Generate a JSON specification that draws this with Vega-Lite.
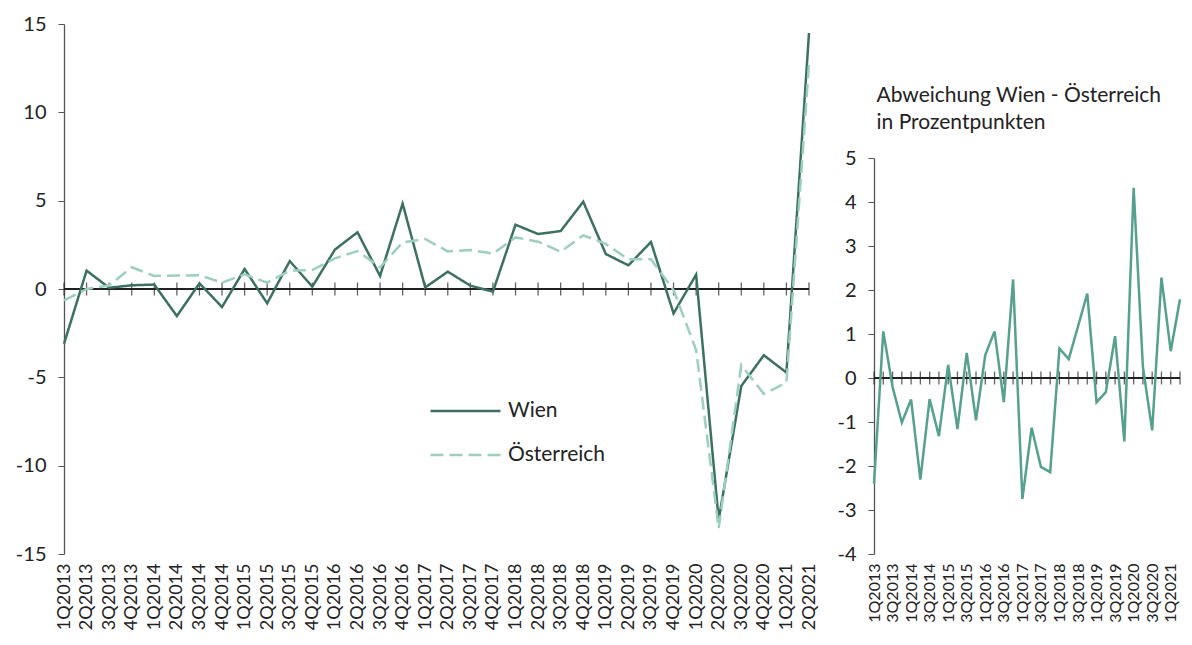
{
  "$schema": "https://vega.github.io/schema/vega-lite/v6.json",
  "background": "white",
  "padding": {"left": 15, "top": 14, "right": 5, "bottom": 5},
  "config": {
    "font": "Lato",
    "view": {"stroke": null},
    "axis": {"labelFont": "Lato", "labelColor": "#222222", "grid": false, "domainColor": "#555555", "tickColor": "#555555"}
  },
  "datasets": {
    "main": [
      {"q": "1Q2013", "s": "Wien", "v": -3.1}, {"q": "2Q2013", "s": "Wien", "v": 1.04}, {"q": "3Q2013", "s": "Wien", "v": 0.07}, {"q": "4Q2013", "s": "Wien", "v": 0.21},
      {"q": "1Q2014", "s": "Wien", "v": 0.25}, {"q": "2Q2014", "s": "Wien", "v": -1.53}, {"q": "3Q2014", "s": "Wien", "v": 0.32}, {"q": "4Q2014", "s": "Wien", "v": -1.02},
      {"q": "1Q2015", "s": "Wien", "v": 1.13}, {"q": "2Q2015", "s": "Wien", "v": -0.81}, {"q": "3Q2015", "s": "Wien", "v": 1.58}, {"q": "4Q2015", "s": "Wien", "v": 0.13},
      {"q": "1Q2016", "s": "Wien", "v": 2.23}, {"q": "2Q2016", "s": "Wien", "v": 3.21}, {"q": "3Q2016", "s": "Wien", "v": 0.74}, {"q": "4Q2016", "s": "Wien", "v": 4.83},
      {"q": "1Q2017", "s": "Wien", "v": 0.09}, {"q": "2Q2017", "s": "Wien", "v": 0.98}, {"q": "3Q2017", "s": "Wien", "v": 0.19}, {"q": "4Q2017", "s": "Wien", "v": -0.15},
      {"q": "1Q2018", "s": "Wien", "v": 3.64}, {"q": "2Q2018", "s": "Wien", "v": 3.11}, {"q": "3Q2018", "s": "Wien", "v": 3.28}, {"q": "4Q2018", "s": "Wien", "v": 4.94},
      {"q": "1Q2019", "s": "Wien", "v": 1.98}, {"q": "2Q2019", "s": "Wien", "v": 1.34}, {"q": "3Q2019", "s": "Wien", "v": 2.66}, {"q": "4Q2019", "s": "Wien", "v": -1.38},
      {"q": "1Q2020", "s": "Wien", "v": 0.81}, {"q": "2Q2020", "s": "Wien", "v": -13.07}, {"q": "3Q2020", "s": "Wien", "v": -5.49}, {"q": "4Q2020", "s": "Wien", "v": -3.75},
      {"q": "1Q2021", "s": "Wien", "v": -4.73}, {"q": "2Q2021", "s": "Wien", "v": 14.49},
      {"q": "1Q2013", "s": "Österreich", "v": -0.65}, {"q": "2Q2013", "s": "Österreich", "v": 0.0}, {"q": "3Q2013", "s": "Österreich", "v": 0.2}, {"q": "4Q2013", "s": "Österreich", "v": 1.23},
      {"q": "1Q2014", "s": "Österreich", "v": 0.74}, {"q": "2Q2014", "s": "Österreich", "v": 0.76}, {"q": "3Q2014", "s": "Österreich", "v": 0.78}, {"q": "4Q2014", "s": "Österreich", "v": 0.36},
      {"q": "1Q2015", "s": "Österreich", "v": 0.83}, {"q": "2Q2015", "s": "Österreich", "v": 0.36}, {"q": "3Q2015", "s": "Österreich", "v": 1.04}, {"q": "4Q2015", "s": "Österreich", "v": 1.07},
      {"q": "1Q2016", "s": "Österreich", "v": 1.73}, {"q": "2Q2016", "s": "Österreich", "v": 2.15}, {"q": "3Q2016", "s": "Österreich", "v": 1.23}, {"q": "4Q2016", "s": "Österreich", "v": 2.64},
      {"q": "1Q2017", "s": "Österreich", "v": 2.83}, {"q": "2Q2017", "s": "Österreich", "v": 2.13}, {"q": "3Q2017", "s": "Österreich", "v": 2.21}, {"q": "4Q2017", "s": "Österreich", "v": 2.0},
      {"q": "1Q2018", "s": "Österreich", "v": 2.92}, {"q": "2Q2018", "s": "Österreich", "v": 2.68}, {"q": "3Q2018", "s": "Österreich", "v": 2.11}, {"q": "4Q2018", "s": "Österreich", "v": 3.04},
      {"q": "1Q2019", "s": "Österreich", "v": 2.55}, {"q": "2Q2019", "s": "Österreich", "v": 1.68}, {"q": "3Q2019", "s": "Österreich", "v": 1.68}, {"q": "4Q2019", "s": "Österreich", "v": -0.06},
      {"q": "1Q2020", "s": "Österreich", "v": -3.45}, {"q": "2Q2020", "s": "Österreich", "v": -13.55}, {"q": "3Q2020", "s": "Österreich", "v": -4.3}, {"q": "4Q2020", "s": "Österreich", "v": -5.94},
      {"q": "1Q2021", "s": "Österreich", "v": -5.3}, {"q": "2Q2021", "s": "Österreich", "v": 12.75}
    ],
    "diff": [
      {"q": "1Q2013", "d": -2.40}, {"q": "2Q2013", "d": 1.06}, {"q": "3Q2013", "d": -0.20}, {"q": "4Q2013", "d": -1.01},
      {"q": "1Q2014", "d": -0.49}, {"q": "2Q2014", "d": -2.31}, {"q": "3Q2014", "d": -0.48}, {"q": "4Q2014", "d": -1.32},
      {"q": "1Q2015", "d": 0.30}, {"q": "2Q2015", "d": -1.16}, {"q": "3Q2015", "d": 0.57}, {"q": "4Q2015", "d": -0.96},
      {"q": "1Q2016", "d": 0.52}, {"q": "2Q2016", "d": 1.06}, {"q": "3Q2016", "d": -0.55}, {"q": "4Q2016", "d": 2.24},
      {"q": "1Q2017", "d": -2.75}, {"q": "2Q2017", "d": -1.13}, {"q": "3Q2017", "d": -2.02}, {"q": "4Q2017", "d": -2.14},
      {"q": "1Q2018", "d": 0.67}, {"q": "2Q2018", "d": 0.43}, {"q": "3Q2018", "d": 1.17}, {"q": "4Q2018", "d": 1.92},
      {"q": "1Q2019", "d": -0.55}, {"q": "2Q2019", "d": -0.32}, {"q": "3Q2019", "d": 0.95}, {"q": "4Q2019", "d": -1.44},
      {"q": "1Q2020", "d": 4.32}, {"q": "2Q2020", "d": 0.25}, {"q": "3Q2020", "d": -1.19}, {"q": "4Q2020", "d": 2.28},
      {"q": "1Q2021", "d": 0.61}, {"q": "2Q2021", "d": 1.79}
    ]
  },
  "hconcat": [
    {
      "width": 745,
      "height": 530,
      "data": {"name": "main"},
      "layer": [
        {
          "mark": {"type": "rule", "color": "#222222", "strokeWidth": 1.3},
          "encoding": {"y": {"datum": 0}}
        },
        {
          "mark": {"type": "tick", "orient": "vertical", "size": 13, "thickness": 1.3, "color": "#222222"},
          "transform": [{"filter": "datum.s === 'Wien'"}],
          "encoding": {
            "x": {"field": "q", "type": "ordinal", "sort": null},
            "y": {"datum": 0}
          }
        },
        {
          "mark": {"type": "line", "strokeWidth": 2.5},
          "encoding": {
            "x": {
              "field": "q", "type": "ordinal", "sort": null,
              "scale": {"type": "point", "padding": 0},
              "axis": {"title": null, "labelAngle": -90, "labelFontSize": 18, "domain": false, "ticks": false, "labelPadding": 9, "labelAlign": "right", "labelBaseline": "middle"}
            },
            "y": {
              "field": "v", "type": "quantitative",
              "scale": {"domain": [-15, 15], "nice": false, "zero": false},
              "axis": {"title": null, "values": [-15, -10, -5, 0, 5, 10, 15], "labelExpr": "toString(datum.value)", "labelFontSize": 20, "tickSize": 6, "labelPadding": 12, "domainWidth": 1.3}
            },
            "color": {
              "field": "s", "type": "nominal",
              "scale": {"domain": ["Wien", "Österreich"], "range": ["#3b7062", "#9dcfc0"]},
              "legend": {"title": null, "orient": "none", "legendX": 365, "legendY": 375, "symbolType": "stroke", "symbolSize": 4900, "symbolStrokeWidth": 2.5, "clipHeight": 24, "rowPadding": 20, "labelFontSize": 21, "labelColor": "#222222", "labelOffset": 6}
            },
            "strokeDash": {
              "field": "s", "type": "nominal",
              "scale": {"domain": ["Wien", "Österreich"], "range": [[1, 0], [13, 6]]},
              "legend": {"title": null, "orient": "none", "legendX": 365, "legendY": 375, "symbolType": "stroke", "symbolSize": 4900, "symbolStrokeWidth": 2.5, "clipHeight": 24, "rowPadding": 20, "labelFontSize": 21, "labelColor": "#222222", "labelOffset": 6}
            }
          }
        }
      ]
    },
    {
      "width": 306,
      "height": 530,
      "data": {"name": "diff"},
      "layer": [
        {
          "mark": {"type": "rule", "color": "#222222", "strokeWidth": 1.3},
          "encoding": {"y": {"datum": 0}}
        },
        {
          "mark": {"type": "tick", "orient": "vertical", "size": 13, "thickness": 1.3, "color": "#222222"},
          "encoding": {
            "x": {"field": "q", "type": "ordinal", "sort": null},
            "y": {"datum": 0}
          }
        },
        {
          "mark": {"type": "line", "strokeWidth": 2.5, "color": "#55a08f"},
          "encoding": {
            "x": {
              "field": "q", "type": "ordinal", "sort": null,
              "scale": {"type": "point", "padding": 0},
              "axis": {"title": null, "labelAngle": -90, "labelFontSize": 16, "domain": false, "ticks": false, "labelPadding": 9, "labelAlign": "right", "labelBaseline": "middle",
                "values": ["1Q2013", "3Q2013", "1Q2014", "3Q2014", "1Q2015", "3Q2015", "1Q2016", "3Q2016", "1Q2017", "3Q2017", "1Q2018", "3Q2018", "1Q2019", "3Q2019", "1Q2020", "3Q2020", "1Q2021"]}
            },
            "y": {
              "field": "d", "type": "quantitative",
              "scale": {"domain": [-4, 5], "nice": false, "zero": false, "range": [530, 134]},
              "axis": {"values": [-4, -3, -2, -1, 0, 1, 2, 3, 4, 5], "labelExpr": "toString(datum.value)", "labelFontSize": 20, "tickSize": 6, "labelPadding": 12, "domainWidth": 1.3,
                "title": ["Abweichung Wien - Österreich", "in Prozentpunkten"], "titleAngle": 0, "titleAlign": "left", "titleBaseline": "alphabetic", "titleX": 2, "titleY": 77, "titleFontSize": 21, "titleFontWeight": "normal", "titleColor": "#222222", "titleLineHeight": 27, "titleFont": "Lato"}
            }
          }
        }
      ]
    }
  ],
  "spacing": 65,
  "bounds": "flush"
}
